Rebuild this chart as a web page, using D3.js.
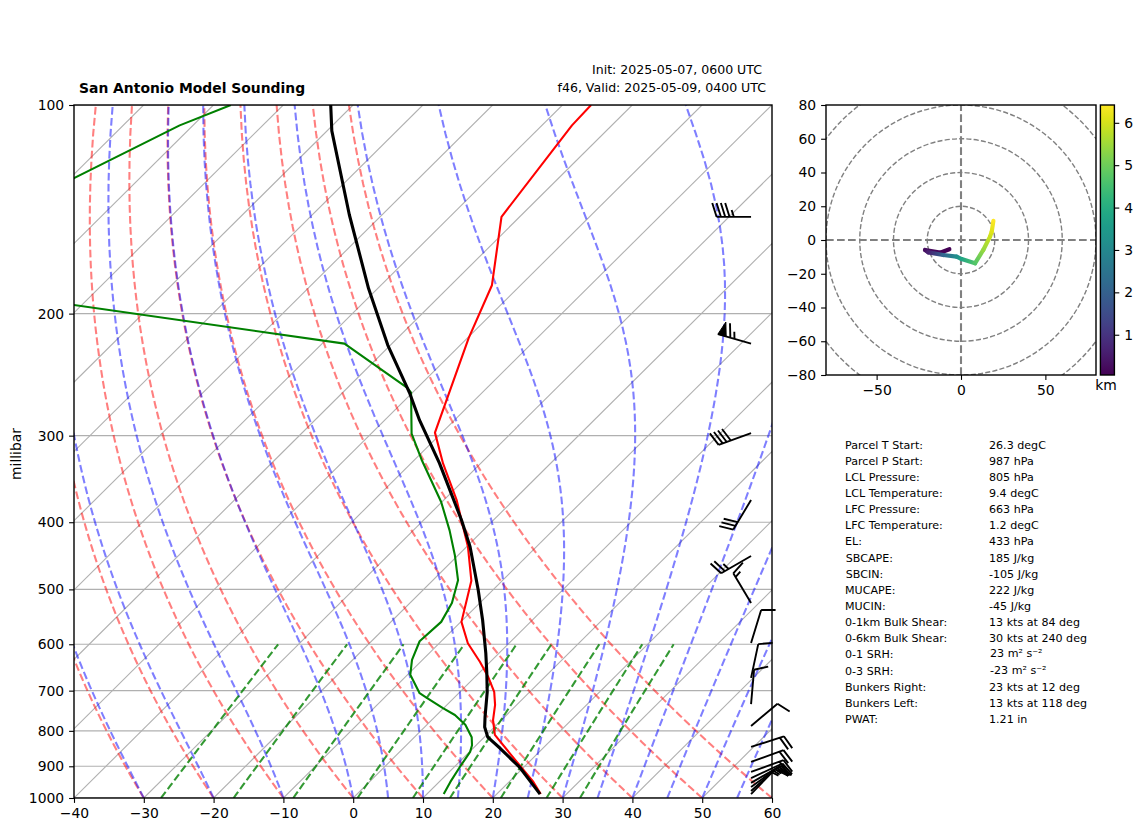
<!DOCTYPE html>
<html><head><meta charset="utf-8">
<script src="https://cdn.jsdelivr.net/npm/d3@7"></script>
<style>
html,body{margin:0;padding:0;background:#fff}
svg{display:block}
text{font-family:"DejaVu Sans",sans-serif;fill:#000}
</style></head><body><div id="c"></div>
<script>
// Sounding profiles
const tempPressure=[987,948,899,811,772,734,703,669,636,598,557,486,434,406,372,329,297,217,182,145,107,100];
const tempValues=[26.3,23.5,19.3,11.2,8.8,6.9,4.9,1.9,-1.5,-5.9,-9.9,-14.4,-19.8,-23.4,-28.1,-35.4,-41,-49.8,-54.1,-62.6,-65.7,-65.9];
const dewPressure=[987,948,902,858,839,817,784,759,742,717,706,664,632,594,557,523,485,446,411,374,325,298,260,256,221,177,107,100];
const dewValues=[12.4,11.6,10.8,10.1,9.4,8.2,5.5,2.6,-0.1,-3.9,-5.6,-9.6,-11.5,-13.1,-12.8,-14,-16.4,-20.5,-24.8,-30.1,-39,-44.2,-50.2,-51.4,-66.8,-143.5,-121.9,-117.5];
const parcelPressure=[987,905,847,817,790,764,703,660,618,554,501,434,397,329,285,261,222,184,144,109,100];
const parcelValues=[26.2,19.6,13.8,10.5,8.6,7.2,3.9,1.1,-1.9,-7.1,-12.1,-19.5,-24.6,-35.9,-45,-50.2,-60.4,-71.3,-84.7,-99.3,-103.2];
const windPressure=[145,221,297.5,371.5,447.5,523,597.6,671,732,787,844,887,917,936,951,964,977,987];
const windSpeed=[45,65,40,30,25,15,10,10,10,10,20,20,20,20,15,15,15,15];
const windDirection=[270,286,250,211,240,329,17,12,5,50,72,70,70,65,60,54,48,44];
const hodoU=[-6.9,-12.4,-21.3,-19.4,-10.5,-2.6,0.4,8.3,13.2,17.2,18.2,19.2];
const hodoV=[-5.5,-7.5,-5.9,-7.3,-8.9,-9.9,-11.3,-13.8,-5.9,2,4.9,11.4];
const hodoHeight=[0.05,0.12,0.25,0.6,2.1,3.2,3.8,4.7,5.4,5.9,6.1,6.42];
// Reference lines and ticks
const pressureTicks=[1000,900,800,700,600,500,400,300,200,100];
const tempTicks=[-40,-30,-20,-10,0,10,20,30,40,50,60];
const isotherms=d3.range(-130,61,10);
const dryStart=[-40,-30,-20,-10,0,10,20,30,40,50,60];
const moistStart=[-40,-30,-20,-10,0,5,10,15,20,25,30,35,40,45,50,55,60];
const mixingRatios=[0.0004,0.001,0.002,0.004,0.007,0.01,0.016,0.024,0.032];
const hodoRings=[20,40,60,80,100,120];
const hodoYTicks=[-80,-60,-40,-20,0,20,40,60,80];
const hodoXTicks=[-50,0,50];
const barTicks=[1,2,3,4,5,6];
const statLabels=["Parcel T Start:","Parcel P Start:","LCL Pressure:","LCL Temperature:","LFC Pressure:","LFC Temperature:","EL:","SBCAPE:","SBCIN:","MUCAPE:","MUCIN:","0-1km Bulk Shear:","0-6km Bulk Shear:","0-1 SRH:","0-3 SRH:","Bunkers Right:","Bunkers Left:","PWAT:"];
const statValues=["26.3 degC","987 hPa","805 hPa","9.4 degC","663 hPa","1.2 degC","433 hPa","185 J/kg","-105 J/kg","222 J/kg","-45 J/kg","13 kts at 84 deg","30 kts at 240 deg","23 m² s⁻²","-23 m² s⁻²","23 kts at 12 deg","13 kts at 118 deg","1.21 in"];

const W=1142,H=832;
const svg=d3.select("#c").append("svg").attr("width",W).attr("height",H);
const fmt=d=>String(d).replace("-","−");

// Skew-T axes
const L=74,R=772,T=105,B=798,skew=1.007;
const x=d3.scaleLinear().domain([-40,60]).range([L,R]);
const y=d3.scaleLog().domain([1000,100]).range([B,T]);
const px=(t,p)=>x(t)+(y(1000)-y(p))*skew;
const line=d3.line().x(d=>px(d[0],d[1])).y(d=>y(d[1]));
svg.append("clipPath").attr("id","sk").append("rect").attr("x",L).attr("y",T).attr("width",R-L).attr("height",B-T);
const g=svg.append("g").attr("clip-path","url(#sk)");

g.selectAll(".iso").data(pressureTicks).join("line").attr("x1",L).attr("x2",R)
 .attr("y1",d=>y(d)).attr("y2",d=>y(d)).attr("stroke","#b0b0b0").attr("stroke-width",1.1);
g.selectAll(".it").data(isotherms).join("path").attr("d",t=>line([[t,1000],[t,100]]))
 .attr("fill","none").attr("stroke","#b0b0b0").attr("stroke-width",1.1);

const pLevels=d3.range(1000,99,-10);
const dash="7.7,3.3";
// Dry adiabats
g.selectAll(".dry").data(dryStart).join("path")
 .attr("d",t0=>line(pLevels.map(p=>[(t0+273.15)*Math.pow(p/1000,0.28571)-273.15,p])))
 .attr("fill","none").attr("stroke","#ff0000").attr("stroke-opacity",.5).attr("stroke-width",2.08).attr("stroke-dasharray",dash);
// Moist adiabats: saturated lapse rate stepped through the pressure levels
function dTdp(p,TK){const Lv=2.501e6,Rd=287.05,cp=1005,eps=0.622;
  const tc=TK-273.15,es=6.112*Math.exp(17.67*tc/(tc+243.5)),rs=eps*es/(p-es);
  return (Rd*TK+Lv*rs)/(cp+Lv*Lv*rs*eps/(Rd*TK*TK))/p;}
function moist(t0){let TK=t0+273.15;const out=[[t0,1000]];
  for(let i=1;i<pLevels.length;i++){const p0=pLevels[i-1],h=pLevels[i]-p0;
    const k1=dTdp(p0,TK),k2=dTdp(p0+h/2,TK+h/2*k1),k3=dTdp(p0+h/2,TK+h/2*k2),k4=dTdp(p0+h,TK+h*k3);
    TK+=h/6*(k1+2*k2+2*k3+k4);out.push([TK-273.15,pLevels[i]]);}
  return out;}
g.selectAll(".moist").data(moistStart).join("path").attr("d",t0=>line(moist(t0)))
 .attr("fill","none").attr("stroke","#0000ff").attr("stroke-opacity",.5).attr("stroke-width",2.08).attr("stroke-dasharray",dash);
// Mixing ratio lines
const pMix=d3.range(1000,599,-10);
const dew=(w,p)=>{const l=Math.log(p*w/(0.622+w)/6.112);return 243.5*l/(17.67-l);};
g.selectAll(".mix").data(mixingRatios).join("path").attr("d",w=>line(pMix.map(p=>[dew(w,p),p])))
 .attr("fill","none").attr("stroke","#008000").attr("stroke-opacity",.8).attr("stroke-width",2.08).attr("stroke-dasharray",dash);

// Profiles
const prof=(ps,ts,col,w)=>g.append("path").attr("d",line(ps.map((p,i)=>[ts[i],p])))
 .attr("fill","none").attr("stroke",col).attr("stroke-width",w).attr("stroke-linejoin","round");
prof(tempPressure,tempValues,"#ff0000",2.1);
prof(dewPressure,dewValues,"#008000",2.1);
prof(parcelPressure,parcelValues,"#000000",3.1);

// Wind barbs
const staff=34.5,bH=.4*staff,bW=.25*staff,bS=.125*staff,barbX=L+.97*(R-L);
const gb=svg.append("g");
windPressure.forEach((p,i)=>{
  const th=windDirection[i]*Math.PI/180,s=[Math.sin(th),-Math.cos(th)],n=[-s[1],s[0]],by=y(p);
  const pt=(d,h)=>[barbX+d*s[0]+h*n[0],by+d*s[1]+h*n[1]];
  let path=[[pt(0,0),pt(staff,0)]],d=staff,sp=Math.round(windSpeed[i]/5)*5;
  while(sp>=50){gb.append("polygon").attr("points",[pt(d,0),pt(d-bW/2,bH),pt(d-bW,0)].map(q=>q.join(",")).join(" ")).attr("fill","#000").attr("stroke","#000").attr("stroke-width",1);d-=bW+bS;sp-=50;}
  while(sp>=10){path.push([pt(d,0),pt(d+bW/2,bH)]);d-=bS;sp-=10;}
  if(sp>=5)path.push([pt(d,0),pt(d+bW/4,bH/2)]);
  gb.append("path").attr("d",path.map(a=>"M"+a[0].join(",")+"L"+a[1].join(",")).join("")).attr("fill","none").attr("stroke","#000").attr("stroke-width",1.9);
});

// Skew-T frame and axes
const axStyle=(s)=>{s.selectAll("path.domain").remove();s.selectAll("line").attr("stroke","#000").attr("stroke-width",1.1);
  s.selectAll("text").style("font-size","13.9px").style("font-family","'DejaVu Sans'").attr("fill","#000");};
svg.append("rect").attr("x",L).attr("y",T).attr("width",R-L).attr("height",B-T).attr("fill","none").attr("stroke","#000").attr("stroke-width",1.4);
svg.append("g").attr("transform",`translate(0,${B})`).call(d3.axisBottom(x).tickValues(tempTicks).tickFormat(fmt).tickSize(4.9).tickPadding(4.9)).call(axStyle);
svg.append("g").attr("transform",`translate(${L},0)`).call(d3.axisLeft(y).tickValues(pressureTicks).tickFormat(d=>d).tickSize(4.9).tickPadding(4.9)).call(axStyle);
svg.append("text").attr("transform","translate(21,454) rotate(-90)").attr("text-anchor","middle").style("font-size","13.9px").text("millibar");
svg.append("text").attr("x",79).attr("y",92.5).style("font-size","13.9px").style("font-weight","bold").text("San Antonio Model Sounding");
svg.append("text").attr("x",762).attr("y",74).attr("text-anchor","end").style("font-size","12.55px").text("Init: 2025-05-07, 0600 UTC");
svg.append("text").attr("x",766).attr("y",92).attr("text-anchor","end").style("font-size","12.55px").text("f46, Valid: 2025-05-09, 0400 UTC");

// Hodograph
const hL=826,hR=1096,hT=105,hB=375;
const hx=d3.scaleLinear().domain([-80,80]).range([hL,hR]);
const hy=d3.scaleLinear().domain([-80,80]).range([hB,hT]);
svg.append("clipPath").attr("id","hc").append("rect").attr("x",hL).attr("y",hT).attr("width",hR-hL).attr("height",hB-hT);
const gh=svg.append("g").attr("clip-path","url(#hc)");
gh.selectAll("circle").data(hodoRings).join("circle").attr("cx",hx(0)).attr("cy",hy(0)).attr("r",d=>hx(d)-hx(0))
 .attr("fill","none").attr("stroke","#808080").attr("stroke-width",1.4).attr("stroke-dasharray","5.1,2.2");
gh.append("line").attr("x1",hx(-80)).attr("x2",hx(80)).attr("y1",hy(0)).attr("y2",hy(0)).attr("stroke","#808080").attr("stroke-width",2.1).attr("stroke-dasharray",dash);
gh.append("line").attr("x1",hx(0)).attr("x2",hx(0)).attr("y1",hy(-80)).attr("y2",hy(80)).attr("stroke","#808080").attr("stroke-width",2.1).attr("stroke-dasharray",dash);
const cScale=d3.scaleSequential(d3.interpolateViridis).domain([0.05,6.42]);
const defs=svg.append("defs");
d3.range(hodoU.length-1).forEach(i=>{
  const id="hs"+i,x1=hx(hodoU[i]),y1=hy(hodoV[i]),x2=hx(hodoU[i+1]),y2=hy(hodoV[i+1]);
  const lg=defs.append("linearGradient").attr("id",id).attr("gradientUnits","userSpaceOnUse").attr("x1",x1).attr("y1",y1).attr("x2",x2).attr("y2",y2);
  lg.append("stop").attr("offset",0).attr("stop-color",cScale(hodoHeight[i]));
  lg.append("stop").attr("offset",1).attr("stop-color",cScale(hodoHeight[i+1]));
  gh.append("path").attr("d",`M${x1},${y1}L${x2},${y2}`).attr("stroke",`url(#${id})`).attr("stroke-width",4.2).attr("fill","none").attr("stroke-linecap","round");
});
svg.append("rect").attr("x",hL).attr("y",hT).attr("width",hR-hL).attr("height",hB-hT).attr("fill","none").attr("stroke","#000").attr("stroke-width",1.4);
svg.append("g").attr("transform",`translate(0,${hB})`).call(d3.axisBottom(hx).tickValues(hodoXTicks).tickFormat(fmt).tickSize(4.9).tickPadding(4.9)).call(axStyle);
svg.append("g").attr("transform",`translate(${hL},0)`).call(d3.axisLeft(hy).tickValues(hodoYTicks).tickFormat(fmt).tickSize(4.9).tickPadding(4.9)).call(axStyle);

// Colour bar
const cL=1100.4,cR=1114.4;
const cy=d3.scaleLinear().domain([0.05,6.42]).range([hB,hT]);
const cg=defs.append("linearGradient").attr("id","cb").attr("x1",0).attr("y1",1).attr("x2",0).attr("y2",0);
d3.range(0,1.0001,.05).forEach(o=>cg.append("stop").attr("offset",o).attr("stop-color",d3.interpolateViridis(o)));
svg.append("rect").attr("x",cL).attr("y",hT).attr("width",cR-cL).attr("height",hB-hT).attr("fill","url(#cb)").attr("stroke","#000").attr("stroke-width",1.4);
svg.append("g").attr("transform",`translate(${cR},0)`).call(d3.axisRight(cy).tickValues(barTicks).tickFormat(d=>d).tickSize(4.9).tickPadding(4.9)).call(axStyle);
svg.append("text").attr("x",1106).attr("y",390).attr("text-anchor","middle").style("font-size","13.9px").text("km");

// Statistics table
const rowY=d3.scaleLinear().domain([0,17]).range([448.5,723]);
svg.selectAll(".sl").data(statLabels).join("text").attr("x",(d,i)=>i==7||i==8?845.7:845).attr("y",(d,i)=>rowY(i)).style("font-size","11.1px").text(d=>d);
svg.selectAll(".sv").data(statValues).join("text").attr("x",(d,i)=>i==13||i==14?990:989).attr("y",(d,i)=>rowY(i)-(i==13||i==14?1:0)).style("font-size","11.1px").text(d=>d);
</script></body></html>
